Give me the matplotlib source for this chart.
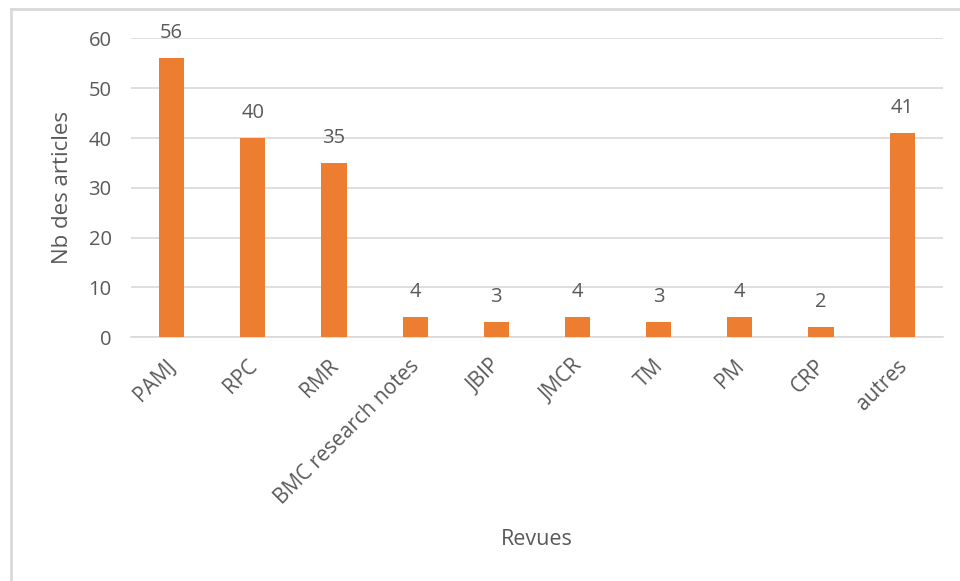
import matplotlib.pyplot as plt
from matplotlib.lines import Line2D
from matplotlib.transforms import ScaledTranslation

revues = ['PAMJ', 'RPC', 'RMR', 'BMC research notes', 'JBIP', 'JMCR',
          'TM', 'PM', 'CRP', 'autres']
nb_articles = [56, 40, 35, 4, 3, 4, 3, 4, 2, 41]

plt.rcParams['font.family'] = ['Open Sans', 'DejaVu Sans']
text_col = '#595959'
grid_col = '#d9d9d9'
bar_col = '#ed7d31'

fig = plt.figure(figsize=(9.6, 5.81), dpi=100)
ax = fig.add_axes([0.1365, 0.4194, 0.8455, 0.5146])

x = range(len(revues))
bars = ax.bar(x, nb_articles, width=0.31, color=bar_col, zorder=3)

ax.set_ylim(0, 60)
ax.set_xlim(-0.5, len(revues) - 0.5)
ax.set_yticks(range(0, 61, 10))
ax.yaxis.grid(True, color=grid_col, linewidth=1.2, zorder=0)
for s in ['top', 'right', 'left']:
    ax.spines[s].set_visible(False)
ax.spines['bottom'].set_color(grid_col)
ax.spines['bottom'].set_linewidth(1.2)
ax.tick_params(axis='both', length=0, colors=text_col, labelsize=14.5)
ax.tick_params(axis='y', pad=14)

ax.set_xticks(list(x))
ax.set_xticklabels(revues, rotation=45, ha='right', rotation_mode='anchor',
                   fontsize=15)
ax.tick_params(axis='x', pad=13)
shift = ScaledTranslation(-6 / 100, 0, fig.dpi_scale_trans)
for lab in ax.get_xticklabels():
    lab.set_transform(lab.get_transform() + shift)

# value labels above each bar
for b, v in zip(bars, nb_articles):
    ax.annotate(str(v), (b.get_x() + b.get_width() / 2, v),
                xytext=(0, 11), textcoords='offset points',
                ha='center', va='bottom', fontsize=14.5, color=text_col)

fig.text(62 / 960, 1 - 187 / 581, 'Nb des articles', rotation=90,
         ha='center', va='center', fontsize=16, color=text_col)
fig.text(0.559, 0.0706, 'Revues', ha='center', va='center', fontsize=15.5,
         color=text_col)

# chart area frame (left and top edges)
fig.add_artist(Line2D([0.0115, 0.0115], [0, 0.985], color=grid_col,
                      linewidth=2, transform=fig.transFigure))
fig.add_artist(Line2D([0.0115, 1], [0.985, 0.985], color=grid_col,
                      linewidth=2, transform=fig.transFigure))

fig.savefig('out.png', dpi=100, facecolor='white')
